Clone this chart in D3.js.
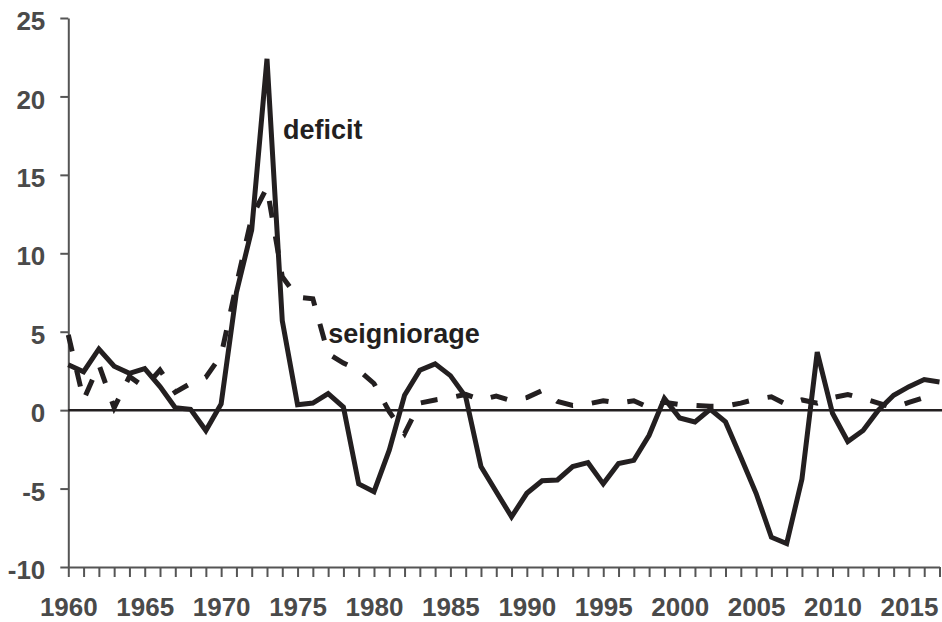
<!DOCTYPE html>
<meta charset="utf-8">
<script src="https://d3js.org/d3.v7.min.js"></script>
<style>
  body { margin: 0; background: #fff; }
  text { font-family: "Liberation Sans", Arial, Helvetica, sans-serif; font-weight: bold; }
</style>
<body>
<div id="chart"></div>
<script>
// data (percent)
var years = d3.range(1960, 2018);
var deficit = [2.9, 2.45, 3.9, 2.8, 2.35, 2.65, 1.5, 0.15, 0.05, -1.3,
  0.4, 7.5, 11.5, 22.4, 5.7, 0.35, 0.45, 1.05, 0.2, -4.7,
  -5.2, -2.55, 0.95, 2.55, 2.95, 2.2, 0.85, -3.6, -5.2, -6.8,
  -5.3, -4.5, -4.45, -3.6, -3.35, -4.7, -3.4, -3.2, -1.6, 0.75,
  -0.5, -0.75, 0.05, -0.75, -3.0, -5.3, -8.1, -8.5, -4.4, 3.7,
  -0.2, -2.0, -1.3, 0.0, 0.95, 1.5, 1.95, 1.8];
var seigniorage = [4.8, 0.65, 2.9, 0.15, 2.15, 1.45, 2.55, 1.15, 1.7, 2.1,
  3.5, 8.0, 12.3, 14.2, 8.5, 7.2, 7.1, 3.6, 3.0, 2.55,
  1.7, -0.1, -1.5, 0.45, 0.65, 0.8, 1.0, 0.65, 0.9, 0.6,
  0.8, 1.25, 0.55, 0.3, 0.4, 0.6, 0.45, 0.6, 0.15, 0.5,
  0.35, 0.3, 0.25, 0.25, 0.45, 0.7, 0.85, 0.35, 0.65, 0.45,
  0.8, 1.0, 0.75, 0.45, 0.15, 0.5, 0.8];
var yTicks = [-10, -5, 0, 5, 10, 15, 20, 25];
var labels = [
  {text: "deficit", year: 1974.05, value: 17.3},
  {text: "seigniorage", year: 1977.0, value: 4.3}
];

var width = 942, height = 622;
var margin = {top: 18, right: 2.5, bottom: 55, left: 68.3};

var svg = d3.select("#chart").append("svg")
  .attr("width", width)
  .attr("height", height);

var x = d3.scaleLinear()
  .domain([1960, 2017])
  .range([margin.left, width - margin.right]);

var y = d3.scaleLinear()
  .domain([-10, 25])
  .range([height - margin.bottom, margin.top]);

var axisColor = "#555";
var textColor = "#4a4a4a";

// Y axis (plain hyphen for negatives, as in the original)
var yAxis = svg.append("g")
  .attr("transform", "translate(" + margin.left + ",0)")
  .call(d3.axisLeft(y).tickValues(yTicks).tickSize(8).tickPadding(15)
    .tickFormat(function(d) { return String(d); }).tickSizeOuter(0));
yAxis.select(".domain").attr("stroke", axisColor).attr("stroke-width", 2);
yAxis.selectAll(".tick line").attr("stroke", axisColor).attr("stroke-width", 2);
yAxis.selectAll(".tick text")
  .attr("fill", textColor)
  .attr("font-size", 26)
  .attr("dy", "0.45em");

// X axis, a tick per year, label every 5
var xAxis = svg.append("g")
  .attr("transform", "translate(0," + y(-10) + ")")
  .call(d3.axisBottom(x).tickValues(years).tickSize(10).tickPadding(21)
    .tickFormat(function(d) { return d % 5 === 0 ? d : ""; }).tickSizeOuter(0));
xAxis.select(".domain").attr("stroke", axisColor).attr("stroke-width", 2);
xAxis.selectAll(".tick line").attr("stroke", axisColor).attr("stroke-width", 2);
xAxis.selectAll(".tick text")
  .attr("fill", textColor)
  .attr("font-size", 26);

// zero line
svg.append("line")
  .attr("x1", x(1960)).attr("x2", width)
  .attr("y1", y(0)).attr("y2", y(0))
  .attr("stroke", "#231f20")
  .attr("stroke-width", 2.5);

var line = d3.line()
  .x(function(d, i) { return x(years[i]); })
  .y(function(d) { return y(d); });

// seigniorage (dashed)
svg.append("path")
  .datum(seigniorage)
  .attr("fill", "none")
  .attr("stroke", "#231f20")
  .attr("stroke-width", 5)
  .attr("stroke-dasharray", "17,19")
  .attr("d", line);

// deficit (solid)
svg.append("path")
  .datum(deficit)
  .attr("fill", "none")
  .attr("stroke", "#231f20")
  .attr("stroke-width", 5)
  .attr("d", line);

// series labels
svg.selectAll(".lbl")
  .data(labels)
  .enter().append("text")
  .attr("class", "lbl")
  .attr("x", function(d) { return x(d.year); })
  .attr("y", function(d) { return y(d.value); })
  .attr("font-size", 27)
  .attr("fill", "#231f20")
  .text(function(d) { return d.text; });
</script>
</body>
